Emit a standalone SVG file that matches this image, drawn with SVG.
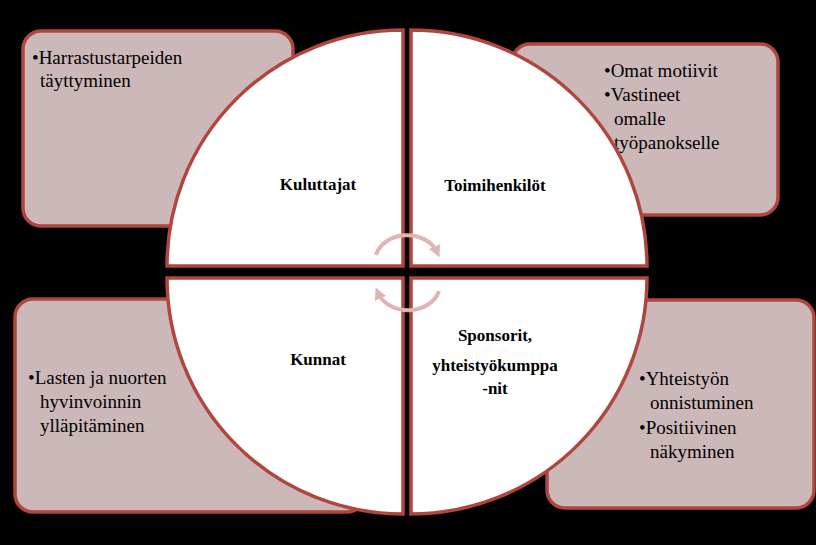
<svg xmlns="http://www.w3.org/2000/svg" width="816" height="545" viewBox="0 0 816 545">
<defs>
<style>
.box{fill:#CDB8B9;stroke:#B0463F;stroke-width:3.5}
.q{fill:#fff;stroke:#B0463F;stroke-width:3.5}
.t{font-family:"Liberation Serif",serif;font-size:19px;fill:#000}
.h{font-family:"Liberation Serif",serif;font-size:17px;font-weight:bold;fill:#000}
.a{fill:none;stroke:#E0B4B3;stroke-width:4}
</style>
<marker id="m" viewBox="0 0 10 10" refX="5" refY="5" markerWidth="3" markerHeight="3" orient="auto"><path d="M0,0L10,5L0,10z" fill="#E0B4B3"/></marker>
</defs>
<rect width="816" height="545" fill="#000"/>
<g id="box-tl"><rect class="box" x="23" y="31" width="270" height="195" rx="18"/><text class="t" x="32" y="64">•Harrastustarpeiden</text><text class="t" x="40" y="87">täyttyminen</text></g>
<g id="box-tr"><rect class="box" x="512" y="44" width="266" height="171" rx="18"/><text class="t" x="604" y="77">•Omat motiivit</text><text class="t" x="604" y="101">•Vastineet</text><text class="t" x="614" y="125">omalle</text><text class="t" x="614" y="149">työpanokselle</text></g>
<g id="box-bl"><rect class="box" x="15" y="299" width="350" height="213" rx="18"/><text class="t" x="28" y="384">•Lasten ja nuorten</text><text class="t" x="40" y="408">hyvinvoinnin</text><text class="t" x="40" y="432">ylläpitäminen</text></g>
<g id="box-br"><rect class="box" x="547" y="300" width="267" height="208" rx="18"/><text class="t" x="639" y="385">•Yhteistyön</text><text class="t" x="650" y="409">onnistuminen</text><text class="t" x="639" y="434">•Positiivinen</text><text class="t" x="650" y="458">näkyminen</text></g>
<g id="q-kuluttajat"><path class="q" d="M403,266 L167,266 A236,236 0 0 1 403,30 Z"/><text class="h" x="318" y="190" text-anchor="middle">Kuluttajat</text></g>
<g id="q-toimihenkilot"><path class="q" d="M411,266 L411,30 A236,236 0 0 1 647,266 Z"/><text class="h" x="495" y="191" text-anchor="middle">Toimihenkilöt</text></g>
<g id="q-kunnat"><path class="q" d="M403,278 L403,514 A236,236 0 0 1 167,278 Z"/><text class="h" x="318" y="365" text-anchor="middle">Kunnat</text></g>
<g id="q-sponsorit"><path class="q" d="M411,278 L647,278 A236,236 0 0 1 411,514 Z"/><text class="h" x="495" y="341" text-anchor="middle" font-size="15">Sponsorit,</text><text class="h" x="495" y="371" text-anchor="middle" font-size="15">yhteistyökumppa</text><text class="h" x="495" y="394" text-anchor="middle" font-size="15">-nit</text></g>
<g id="connectors">
<path class="a" d="M376,255 A32,26 0 0 1 437,252" marker-end="url(#m)"/>
<path class="a" d="M439,291 A32,26 0 0 1 378,293" marker-end="url(#m)"/>
</g>
</svg>
